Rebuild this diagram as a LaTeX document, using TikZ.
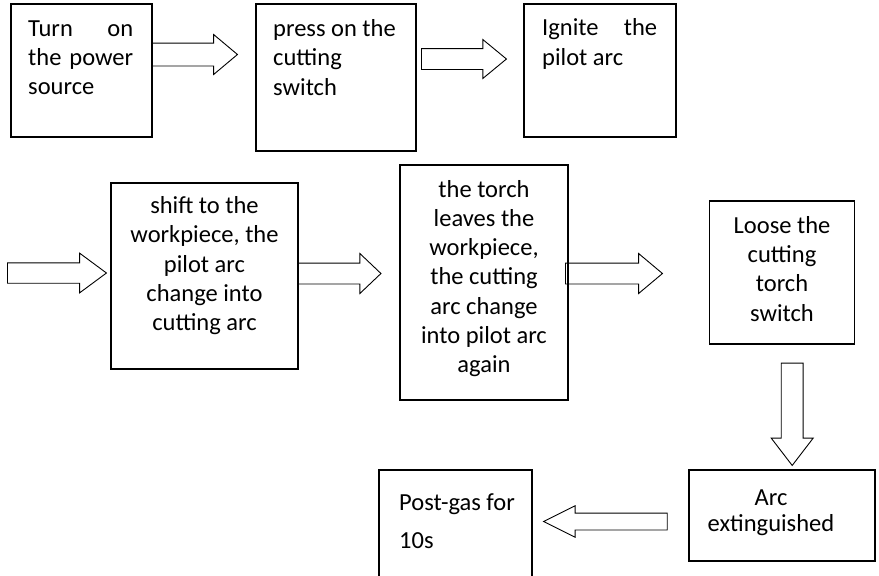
\documentclass[tikz,border=0pt]{standalone}
\usepackage{fontspec}
\setmainfont{Carlito}
\usepackage{tikz}
\usetikzlibrary{shapes,arrows}
\tikzstyle{box} = [draw, rectangle, line width=1.2pt, inner sep=0pt]
\tikzstyle{txt} = [inner sep=0pt, font=\fontsize{24.5}{29.2}\selectfont]
\tikzstyle{blockarrow} = [draw, single arrow, line width=0.9pt, inner sep=0pt, minimum width=0pt, single arrow head indent=0pt, anchor=tail]

\begin{document}
\begin{tikzpicture}[x=1pt, y=-1pt]
    \useasboundingbox (0,0) rectangle (879,576);
    % Place nodes
    \node [box, minimum width=141pt, minimum height=133pt] (power) at (81.5,70.5) {};
    \node [box, minimum width=160pt, minimum height=147pt] (press) at (336,77.5) {};
    \node [box, minimum width=152pt, minimum height=133pt] (ignite) at (600,70.5) {};
    \node [box, minimum width=187pt, minimum height=186pt] (shift) at (204.5,276) {};
    \node [box, minimum width=168pt, minimum height=235pt] (leave) at (484,282.5) {};
    \node [box, minimum width=145pt, minimum height=143pt] (loose) at (782,272.5) {};
    \node [box, minimum width=186pt, minimum height=91pt] (extinct) at (782,515.5) {};
    \node [box, minimum width=153pt, minimum height=130pt] (postgas) at (455.5,535) {};

    % Texts (anchored at the baseline of the last line)
    \node [txt, align=left, anchor=base west] (powertext) at (28,94.5)
        {\makebox[105pt][s]{Turn on}\\\makebox[105pt][s]{the power}\\source};
    \node [txt, align=left, anchor=base west] (presstext) at (273,95)
        {press on the\\cutting\\switch};
    \node [txt, align=left, anchor=base west] (ignitetext) at (542,65)
        {\makebox[115pt][s]{Ignite the}\\pilot arc};
    \node [txt, align=center, anchor=base] (shifttext) at (204.5,330.5)
        {shift to the\\workpiece, the\\pilot arc\\change into\\cutting arc};
    \node [txt, align=center, anchor=base] (leavetext) at (484,372.4)
        {the torch\\leaves the\\workpiece,\\the cutting\\arc change\\into pilot arc\\again};
    \node [txt, align=center, anchor=base] (loosetext) at (782,321)
        {Loose the\\cutting\\torch\\switch};
    \node [txt, align=center, anchor=base] (extincttext) at (771,531)
        {Arc\\[-3.2pt]extinguished};
    \node [txt, align=left, anchor=base west] (postgastext) at (399,548)
        {Post-gas for\\[8.8pt]10s};

    % Arrows
    \node [blockarrow, minimum height=85pt, inner ysep=11pt, single arrow head extend=8.5pt, single arrow tip angle=80] (a1) at (152,54.5) {};
    \node [blockarrow, minimum height=85pt, inner ysep=10pt, single arrow head extend=9pt, single arrow tip angle=79] (a2) at (421,59) {};
    \node [blockarrow, minimum height=99pt, inner ysep=9.75pt, single arrow head extend=9.6pt, single arrow tip angle=73] (a3) at (7,273) {};
    \node [blockarrow, minimum height=83pt, inner ysep=10pt, single arrow head extend=9.6pt, single arrow tip angle=87] (a4) at (297.5,273.5) {};
    \node [blockarrow, minimum height=97pt, inner ysep=10pt, single arrow head extend=9.6pt, single arrow tip angle=80] (a5) at (565,273.5) {};
    \node [blockarrow, rotate=-90, minimum height=102.3pt, inner ysep=10.5pt, single arrow head extend=10pt, single arrow tip angle=75] (a6) at (792.2,362.7) {};
    \node [blockarrow, rotate=180, minimum height=123.7pt, inner ysep=8pt, single arrow head extend=7.3pt, single arrow tip angle=53] (a7) at (667.7,521.5) {};
\end{tikzpicture}
\end{document}
